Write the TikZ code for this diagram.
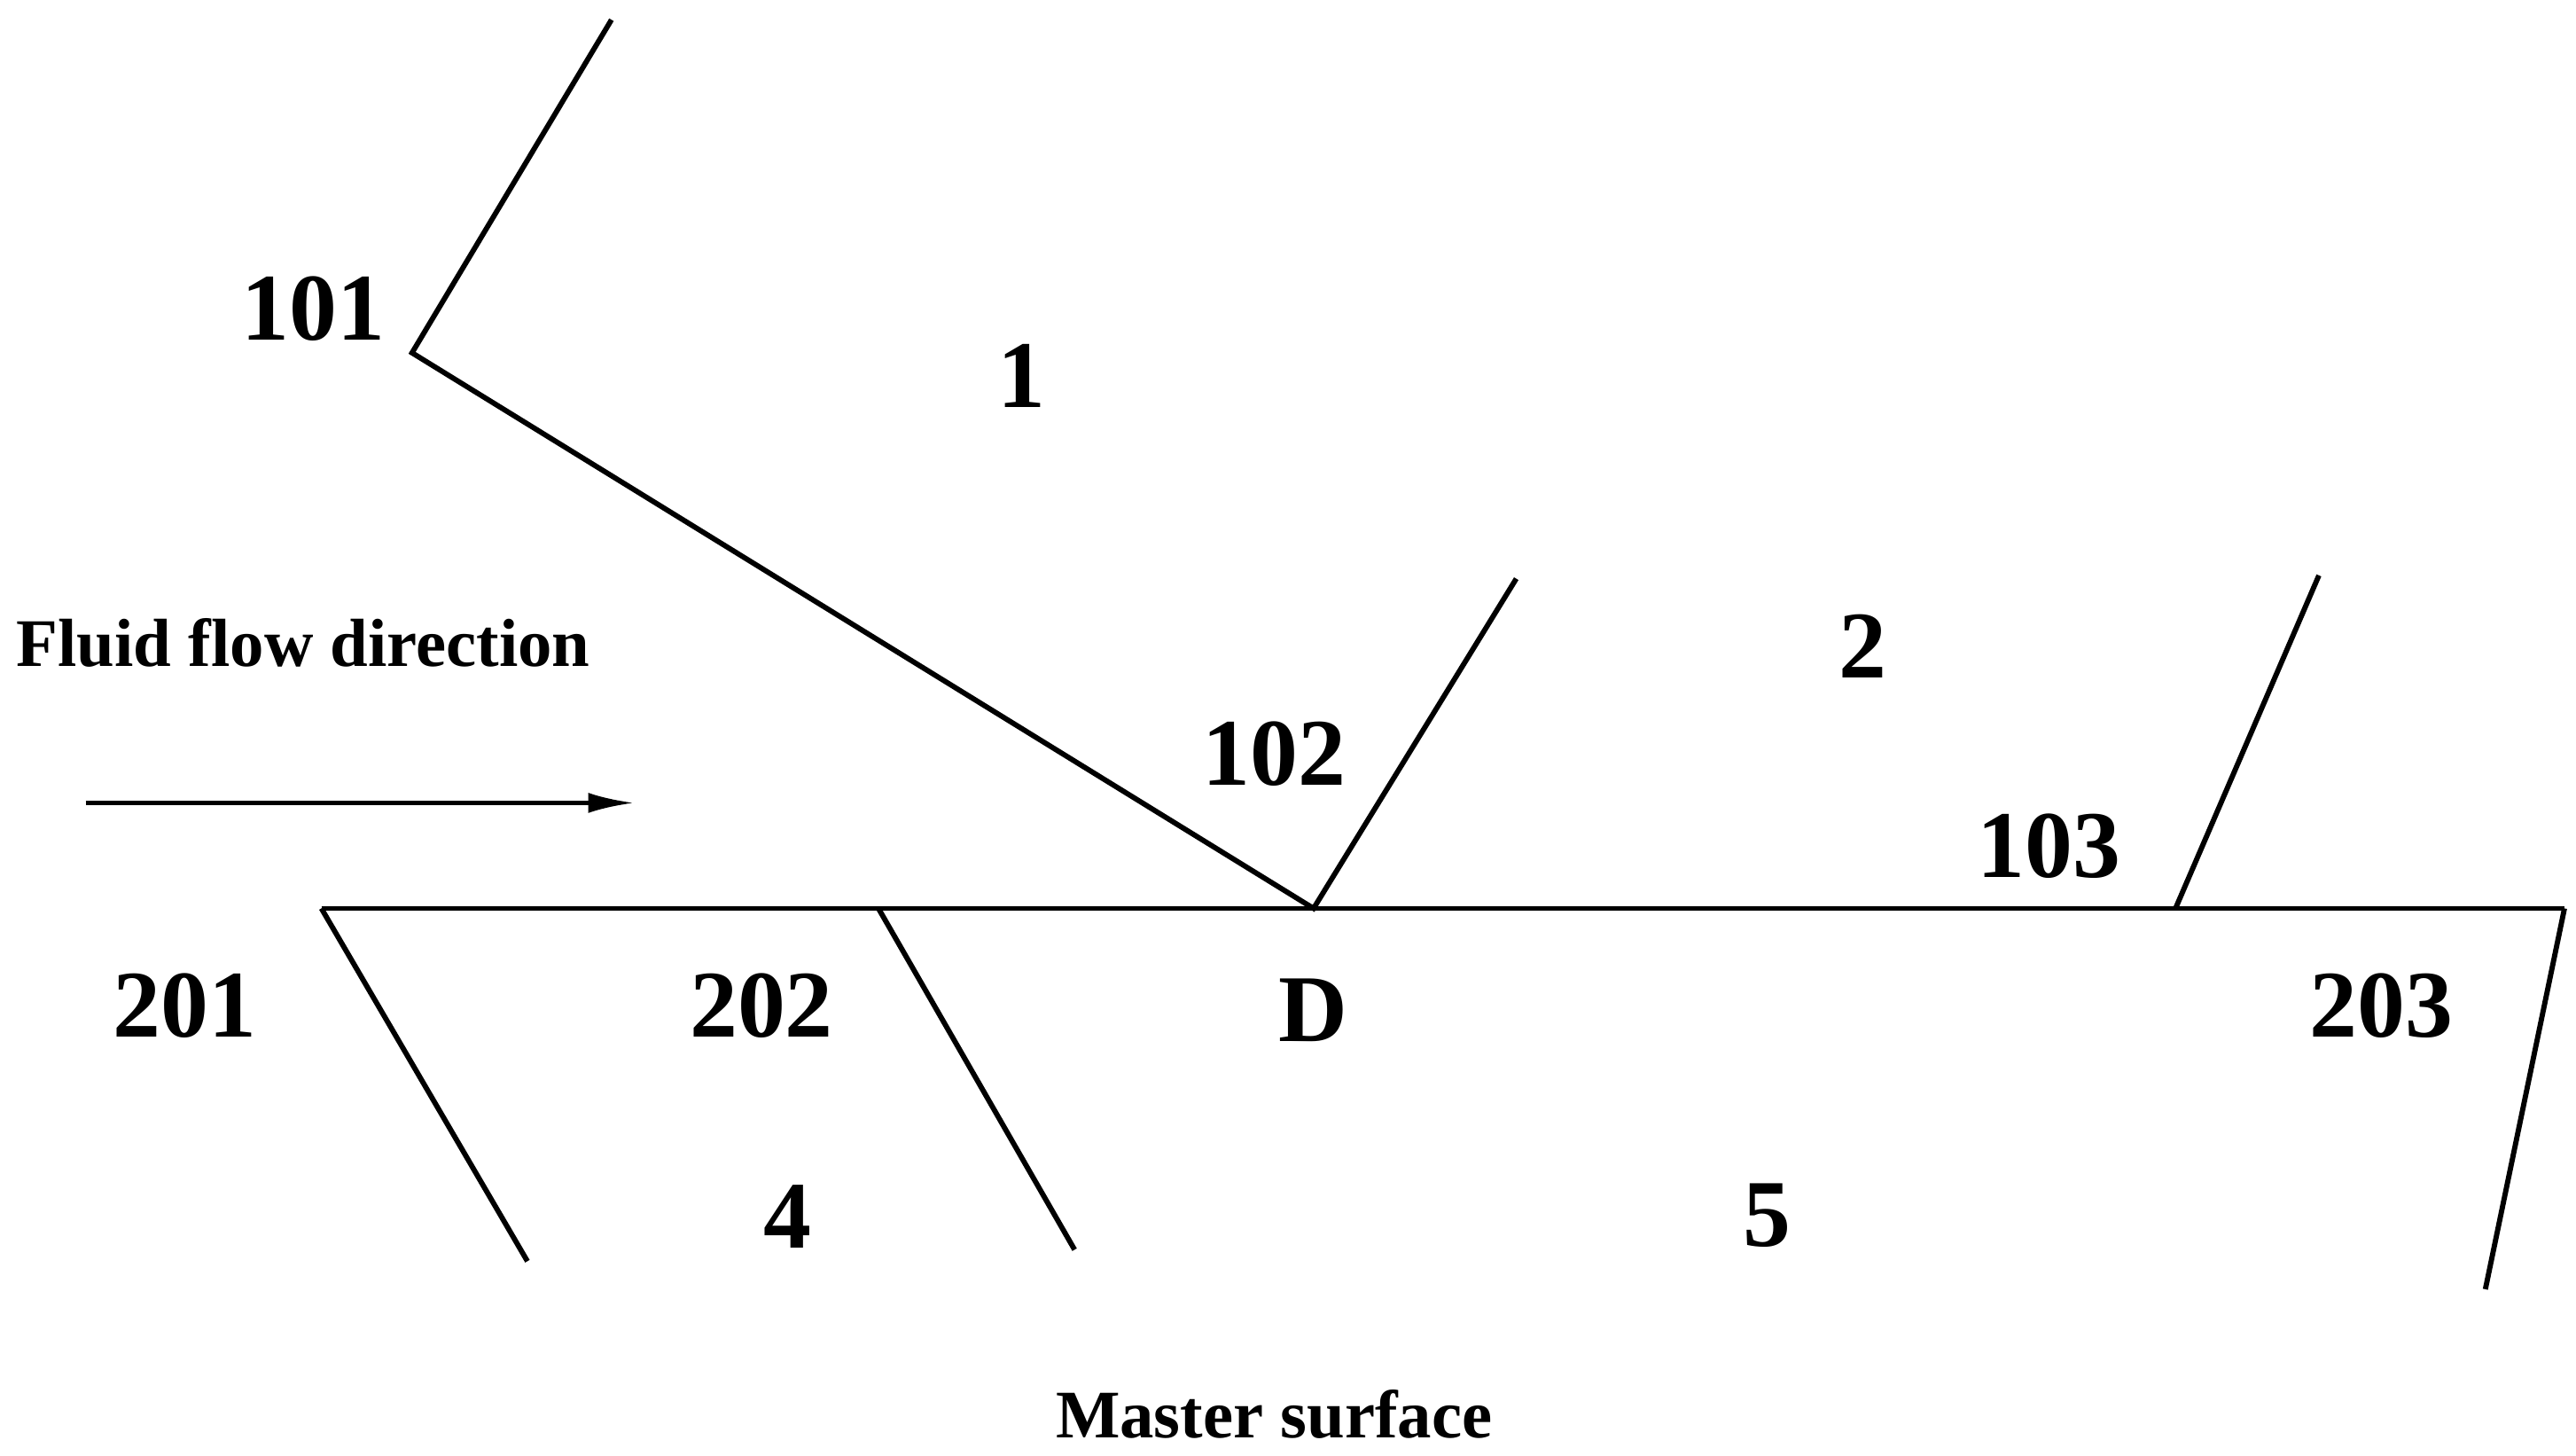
\documentclass[tikz,border=0pt]{standalone}
\usepackage{fontspec}
\setmainfont{Liberation Serif}
\usetikzlibrary{arrows.meta}
\begin{document}
\begin{tikzpicture}[x=0.02cm,y=-0.02cm,
  ln/.style={line width=1.8pt,line join=miter},
  big/.style={font=\fontsize{33}{36}\selectfont\bfseries,inner sep=0},
  captxt/.style={font=\fontsize{23.5}{26}\selectfont\bfseries,inner sep=0}]
\useasboundingbox (0,0) rectangle (1563,883);
\coordinate (a) at (371,12); \coordinate (p101) at (250,214);
\coordinate (D) at (797,551); \coordinate (b) at (920,351);
\coordinate (L) at (195,551); \coordinate (R) at (1556,551);
\coordinate (p103) at (1320,551); \coordinate (c) at (1407,349);
\coordinate (p202) at (533,551);
\coordinate (e1) at (320,765); \coordinate (e2) at (652,758); \coordinate (e3) at (1508,782);
\coordinate (s) at (52,487); \coordinate (t) at (385,487);
\draw[ln] (a) -- (p101) -- (D) -- (b);
\draw[ln] (L) -- (R);
\draw[ln] (p103) -- (c);
\draw[ln] (L) -- (e1);
\draw[ln] (p202) -- (e2);
\draw[ln] (R) -- (e3);
\draw[line width=1.6pt,-{Latex[length=16pt,width=7pt]}] (s) -- (t);
\node[big] (n101) at (190,187) {101};
\node[big] (n1) at (620,228) {1};
\node[captxt] (fl) at (184,390) {Fluid flow direction};
\node[big] (n102) at (773,457) {102};
\node[big] (n2) at (1130,392) {2};
\node[big] (n103) at (1243,513) {103};
\node[big] (n201) at (112,610) {201};
\node[big] (n202) at (462,610) {202};
\node[big] (nD) at (797,613) {D};
\node[big] (n203) at (1445,610) {203};
\node[big] (n4) at (478,738) {4};
\node[big] (n5) at (1072,737) {5};
\node[captxt] (ms) at (773,858) {Master surface};
\end{tikzpicture}
\end{document}
